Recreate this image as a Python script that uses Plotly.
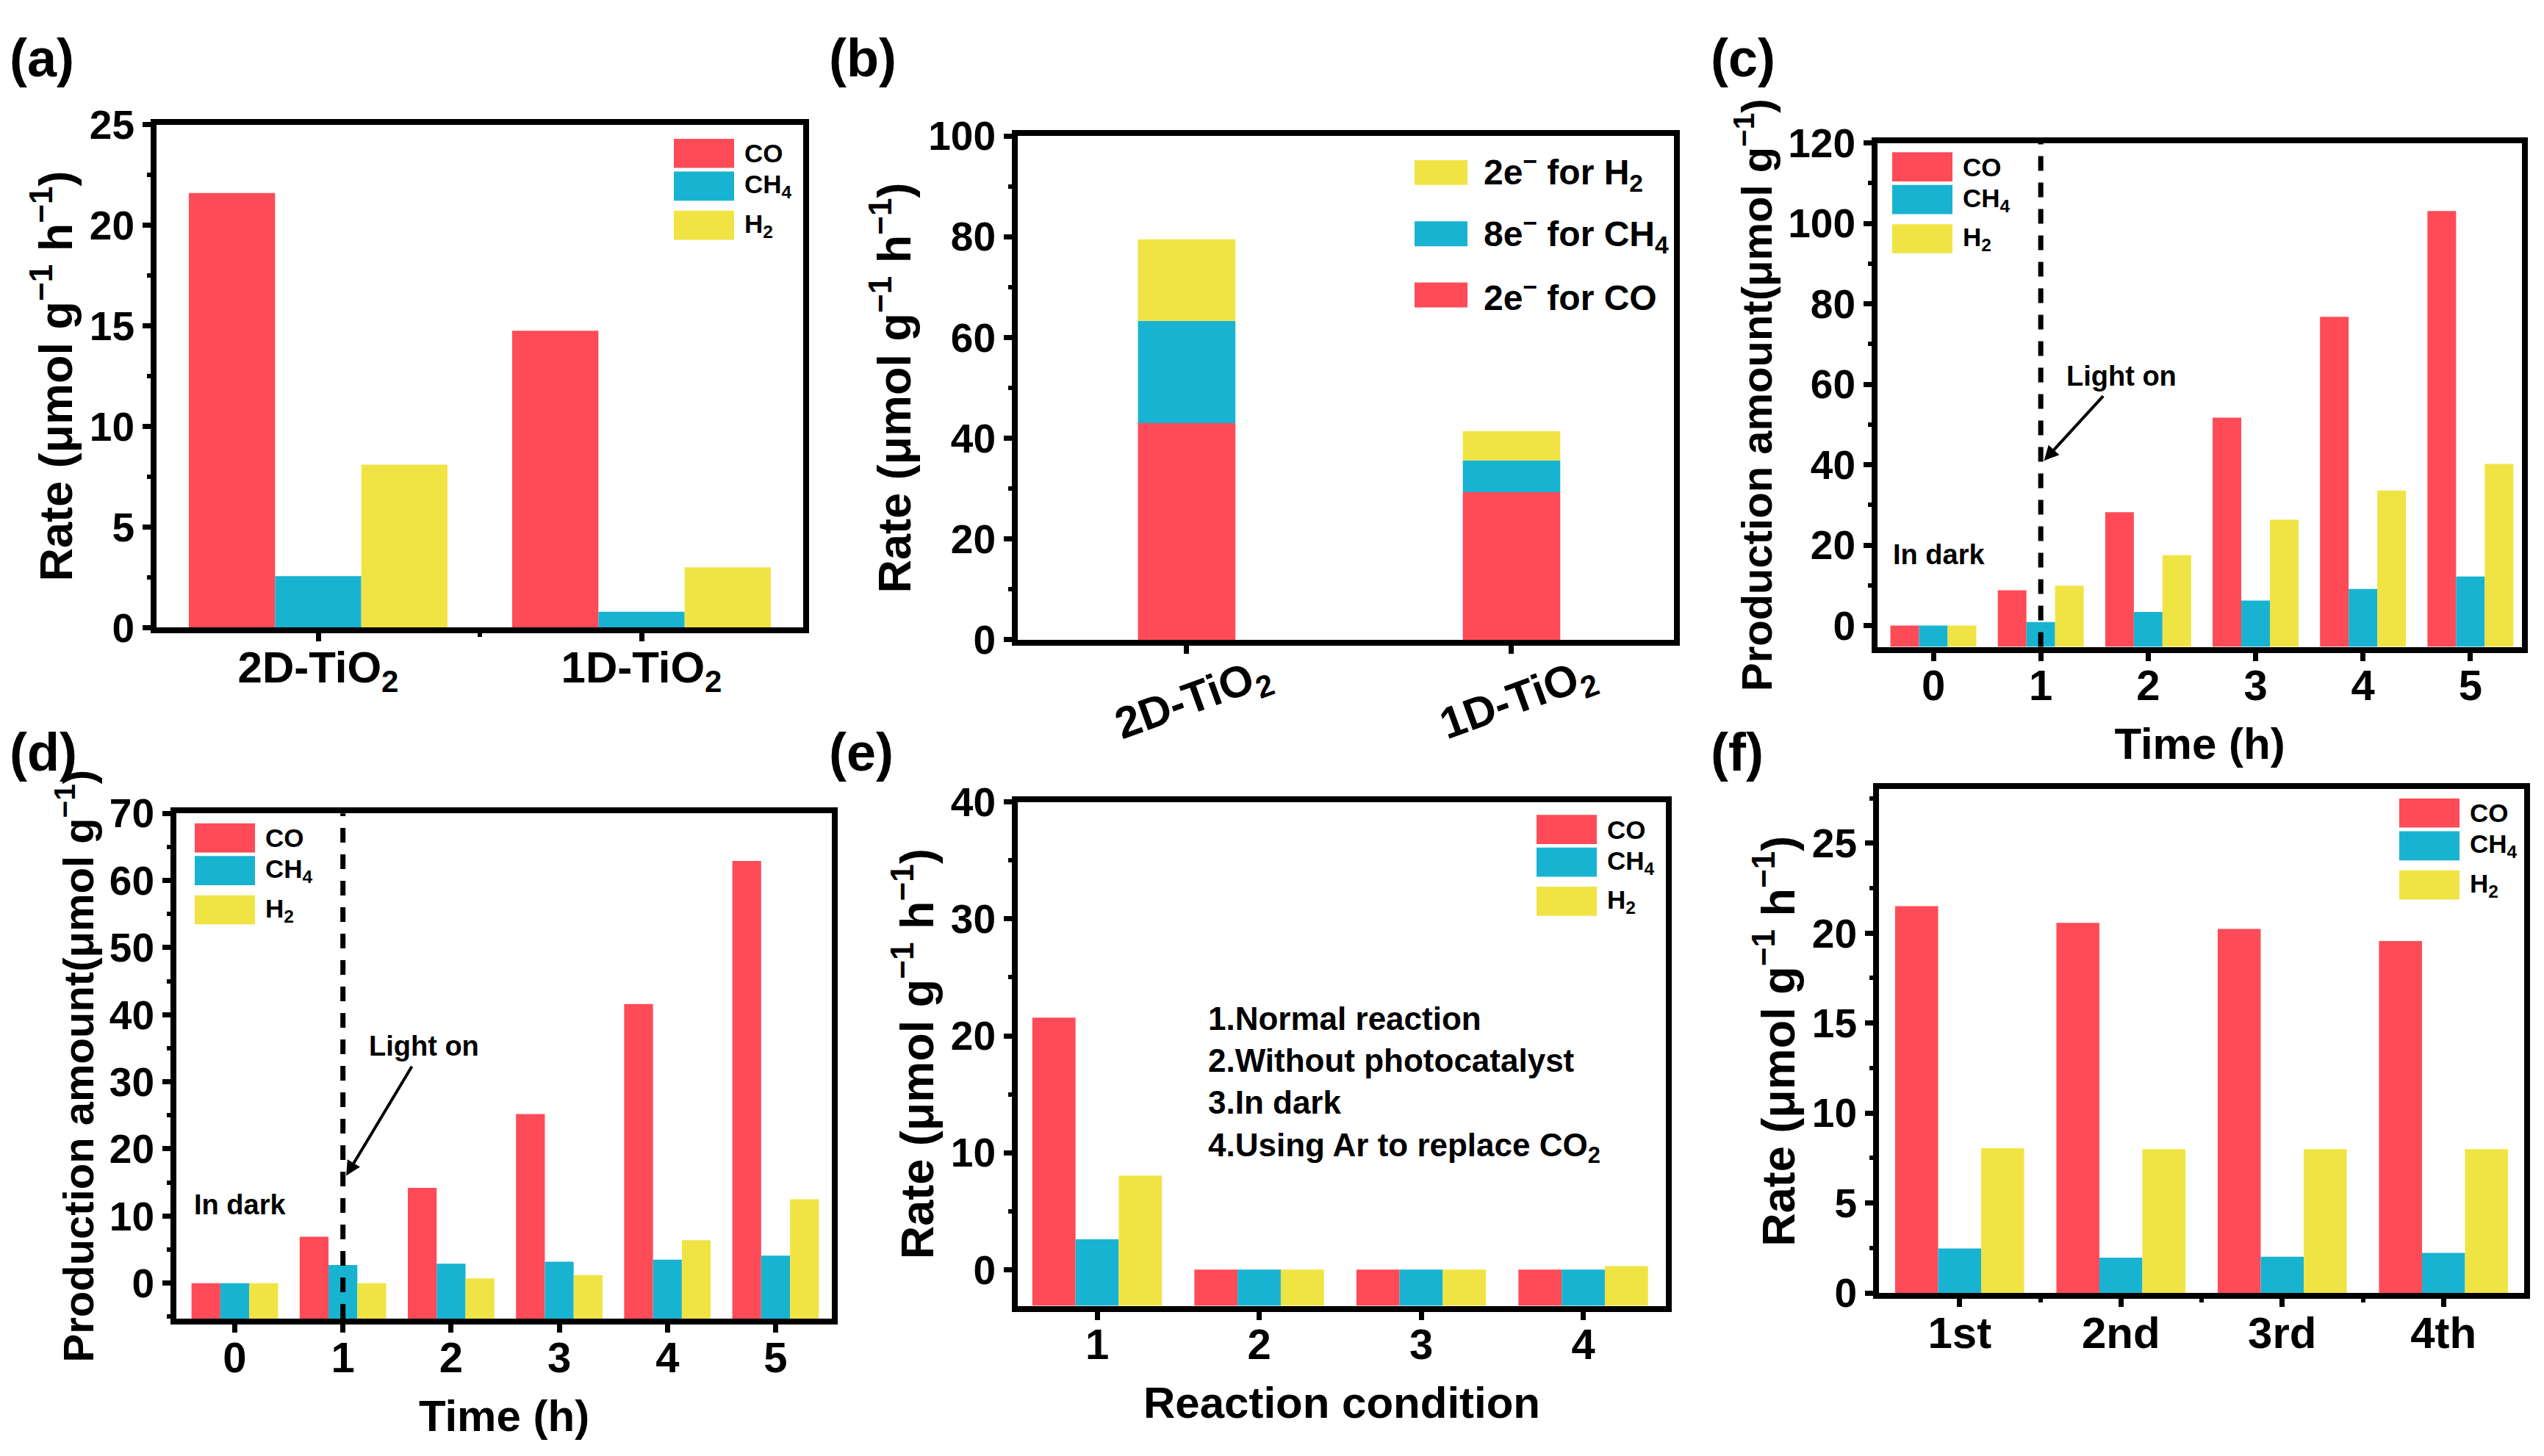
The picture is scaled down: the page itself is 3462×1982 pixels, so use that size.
import plotly.graph_objects as go

W, H = 3462, 1982
FONT = "Liberation Sans, Arial, sans-serif"

CO_COLOR = "#FF4B57"
CH4_COLOR = "#19B3D2"
H2_COLOR = "#F0E444"

# (a) rates of the two catalysts
SAMPLES = ["2D-TiO<sub>2</sub>", "1D-TiO<sub>2</sub>"]
A_CO = [21.6, 14.75]
A_CH4 = [2.56, 0.79]
A_H2 = [8.1, 3.0]

# (b) electron consumption rates (stacked)
B_CO = [43.0, 29.3]
B_CH4 = [20.3, 6.3]
B_H2 = [16.2, 5.8]

# (c) production vs time, 2D-TiO2
TIME_H = [0, 1, 2, 3, 4, 5]
C_CO = [0, 8.8, 28.2, 51.7, 76.8, 103.1]
C_CH4 = [0, 0.9, 3.4, 6.2, 9.1, 12.2]
C_H2 = [0, 9.9, 17.5, 26.3, 33.6, 40.2]

# (d) production vs time, 1D-TiO2
D_CO = [0, 6.9, 14.2, 25.2, 41.6, 62.9]
D_CH4 = [0, 2.7, 2.9, 3.2, 3.5, 4.1]
D_H2 = [0, 0, 0.7, 1.2, 6.4, 12.5]

LIGHT_ON = 1

# (e) control experiments
CONDITIONS = [1, 2, 3, 4]
E_CO = [21.55, 0, 0, 0]
E_CH4 = [2.6, 0, 0, 0]
E_H2 = [8.04, 0, 0, 0.3]
CONDITION_NOTES = ["1.Normal reaction", "2.Without photocatalyst", "3.In dark",
                   "4.Using Ar to replace CO<sub>2</sub>"]

# (f) cycling
CYCLES = ["1st", "2nd", "3rd", "4th"]
F_CO = [21.5, 20.57, 20.24, 19.56]
F_CH4 = [2.48, 1.97, 2.02, 2.23]
F_H2 = [8.05, 8.0, 8.0, 8.0]

GASES = ["CO", "CH<sub>4</sub>", "H<sub>2</sub>"]
COLORS = [CO_COLOR, CH4_COLOR, H2_COLOR]

RATE_TITLE = "Rate (μmol g<sup>−1</sup> h<sup>−1</sup>)"
PROD_TITLE = "Production amount(μmol g<sup>−1</sup>)"


def font(size):
    return dict(family=FONT, size=size, color="black", weight="bold")


def dom_x(left, right):
    return [left / W, right / W]


def dom_y(top, bottom):
    return [1 - bottom / H, 1 - top / H]


def minor(**kw):
    d = dict(ticks="outside", ticklen=5, tickwidth=6, tickcolor="black")
    d.update(kw)
    return d


def base_axis():
    return dict(showline=True, mirror=True, linewidth=8, linecolor="black",
                ticks="outside", ticklen=11, tickwidth=7, tickcolor="black",
                showgrid=False, zeroline=False, tickfont=font(55))


def x_axis(**kw):
    d = base_axis()
    d.update(ticklabelstandoff=-16)
    d.update(kw)
    return d


def y_title(text, size):
    return dict(text=text, font=font(size), standoff=6)


def x_title(text):
    return dict(text=text, font=font(60), standoff=30)


def add_group(fig, n, x, series, floor=None):
    ax = "" if n == 1 else str(n)
    for vals, name, color in zip(series, GASES, COLORS):
        if floor is None:
            fig.add_trace(go.Bar(x=x, y=vals, name=name, marker_color=color,
                                 marker_line_width=0, showlegend=False,
                                 xaxis="x" + ax, yaxis="y" + ax))
        else:
            fig.add_trace(go.Bar(x=x, y=[v - floor for v in vals], base=floor,
                                 name=name, marker_color=color,
                                 marker_line_width=0, showlegend=False,
                                 xaxis="x" + ax, yaxis="y" + ax))


def add_legend(fig, left, top, labels, colors, sw_w=82, sw_h=41,
               offsets=(0, 46, 101), size=35, gap=12):
    for label, color, dy in zip(labels, colors, offsets):
        y0 = top + dy
        fig.add_shape(type="rect", xref="paper", yref="paper",
                      x0=left / W, x1=(left + sw_w) / W,
                      y0=1 - (y0 + sw_h) / H, y1=1 - y0 / H,
                      fillcolor=color, line_width=0)
        fig.add_annotation(xref="paper", yref="paper",
                           x=(left + sw_w + gap) / W, y=1 - (y0 + sw_h / 2) / H,
                           text=label, showarrow=False, xanchor="left",
                           yanchor="middle", font=font(size))


fig = go.Figure()

add_group(fig, 1, list(range(len(SAMPLES))), [A_CO, A_CH4, A_H2])

# (b) stacked: one offset position, manual bases
b_x = list(range(len(SAMPLES)))
b_base_h2 = [a + b for a, b in zip(B_CO, B_CH4)]
for vals, base, name, color in [(B_CO, None, "2e⁻ for CO", CO_COLOR),
                                (B_CH4, B_CO, "8e⁻ for CH4", CH4_COLOR),
                                (B_H2, b_base_h2, "2e⁻ for H2", H2_COLOR)]:
    fig.add_trace(go.Bar(x=b_x, y=vals, base=base, name=name, marker_color=color,
                         marker_line_width=0, width=0.3, offset=-0.15,
                         showlegend=False, xaxis="x2", yaxis="y2"))

C_MIN, D_MIN, E_MIN = -5.3, -5.3, -3.1
add_group(fig, 3, TIME_H, [C_CO, C_CH4, C_H2], floor=C_MIN)
add_group(fig, 4, TIME_H, [D_CO, D_CH4, D_H2], floor=D_MIN)
add_group(fig, 5, CONDITIONS, [E_CO, E_CH4, E_H2], floor=E_MIN)
add_group(fig, 6, list(range(len(CYCLES))), [F_CO, F_CH4, F_H2])

layout = dict(width=W, height=H, margin=dict(l=0, r=0, t=0, b=0),
              paper_bgcolor="white", plot_bgcolor="white",
              barmode="group", bargap=0.2, bargroupgap=0,
              font=font(40))

# (a)
layout["xaxis"] = x_axis(domain=dom_x(213, 1093), anchor="y", range=[-0.5, 1.5],
                         tickvals=[0, 1], ticktext=SAMPLES, tickfont=font(60),
                         minor=minor(tickvals=[0.5]))
ya = base_axis()
ya.update(domain=dom_y(143, 850), anchor="x", range=[0, 25], dtick=5,
          minor=minor(dtick=2.5), title=y_title(RATE_TITLE, 63))
layout["yaxis"] = ya

# (b)
layout["xaxis2"] = x_axis(domain=dom_x(1385, 2278), anchor="y2", range=[-0.52, 1.5],
                          tickvals=[0, 1], showticklabels=False)
yb = base_axis()
yb.update(domain=dom_y(159, 867), anchor="x2", range=[0, 100], dtick=20,
          minor=minor(dtick=10), title=y_title(RATE_TITLE, 63))
layout["yaxis2"] = yb

# (c)
layout["xaxis3"] = x_axis(domain=dom_x(2555, 3432), anchor="y3", range=[-0.52, 5.48],
                          dtick=1, tickfont=font(58), title=x_title("Time (h)"))
yc = base_axis()
yc.update(domain=dom_y(169, 877), anchor="x3", range=[C_MIN, 120], dtick=20,
          minor=minor(dtick=10), title=y_title(PROD_TITLE, 58))
layout["yaxis3"] = yc

# (d)
layout["xaxis4"] = x_axis(domain=dom_x(240, 1132), anchor="y4", range=[-0.54, 5.52],
                          dtick=1, tickfont=font(58), title=x_title("Time (h)"))
yd = base_axis()
yd.update(domain=dom_y(1111, 1821), anchor="x4", range=[D_MIN, 70], dtick=10,
          minor=minor(dtick=5), title=y_title(PROD_TITLE, 58))
layout["yaxis4"] = yd

# (e)
layout["xaxis5"] = x_axis(domain=dom_x(1385, 2267), anchor="y5", range=[0.51, 4.51],
                          dtick=1, tickfont=font(58), title=x_title("Reaction condition"))
ye = base_axis()
ye.update(domain=dom_y(1095, 1803), anchor="x5", range=[E_MIN, 40], dtick=10,
          minor=minor(dtick=5), title=y_title(RATE_TITLE, 63))
layout["yaxis5"] = ye

# (f)
layout["xaxis6"] = x_axis(domain=dom_x(2557, 3435), anchor="y6", range=[-0.5, 3.5],
                          tickvals=list(range(len(CYCLES))), ticktext=CYCLES,
                          tickfont=font(60), minor=minor(tickvals=[0.5, 1.5, 2.5]))
yf = base_axis()
yf.update(domain=dom_y(1077, 1785), anchor="x6", range=[0, 28], dtick=5,
          minor=minor(dtick=2.5), title=y_title(RATE_TITLE, 63))
layout["yaxis6"] = yf

fig.update_layout(layout)

# rotated sample labels for (b)
for i, s in enumerate(SAMPLES):
    fig.add_annotation(xref="x2", yref="paper", x=i, y=1 - 953 / H, xshift=10,
                       text=s, textangle=-20, showarrow=False, font=font(60))

# light-on markers in (c) and (d)
for ax, y_text, head_y, dark_y in [("3", 62, 41, 17.6), ("4", 35.3, 16, 11.7)]:
    fig.add_shape(type="line", xref="x" + ax, yref="y" + ax + " domain",
                  x0=LIGHT_ON, x1=LIGHT_ON, y0=0, y1=1,
                  line=dict(color="black", width=7, dash="20px,16px"))
    fig.add_annotation(xref="x" + ax, yref="y" + ax, x=LIGHT_ON + 0.03, y=head_y,
                       axref="x" + ax, ayref="y" + ax, ax=LIGHT_ON + 0.75, ay=y_text,
                       text="Light on", showarrow=True, arrowhead=2, arrowsize=1,
                       arrowwidth=4, arrowcolor="black", startstandoff=6,
                       font=font(38))
    fig.add_annotation(xref="x" + ax, yref="y" + ax, x=0.05, y=dark_y,
                       text="In dark", showarrow=False, font=font(38))

# notes in (e)
fig.add_annotation(xref="paper", yref="paper", x=1642 / W, y=1 - 1372 / H,
                   xanchor="left", yanchor="top", align="left",
                   text="<br>".join(CONDITION_NOTES), showarrow=False,
                   font=font(44))

# legends
add_legend(fig, 917, 163, GASES, COLORS)
add_legend(fig, 2575, 182, GASES, COLORS)
add_legend(fig, 265, 1125, GASES, COLORS)
add_legend(fig, 2091, 1113, GASES, COLORS)
add_legend(fig, 3265, 1090, GASES, COLORS)
add_legend(fig, 1925, 193,
           ["2e<sup>−</sup> for H<sub>2</sub>", "8e<sup>−</sup> for CH<sub>4</sub>",
            "2e<sup>−</sup> for CO"],
           [H2_COLOR, CH4_COLOR, CO_COLOR], sw_w=72, sw_h=35,
           offsets=(0, 86, 172), size=48, gap=20)

# panel letters
for letter, left, top in [("(a)", 11, 6), ("(b)", 1126, 6), ("(c)", 2326, 6),
                          ("(d)", 11, 982), ("(e)", 1126, 982), ("(f)", 2326, 982)]:
    fig.add_annotation(xref="paper", yref="paper", x=left / W, y=1 - top / H,
                       xanchor="left", yanchor="top", text=letter,
                       showarrow=False, font=font(72))

fig.write_html("out.html", config={"displayModeBar": False},
               post_script="document.body.style.margin='0';")
